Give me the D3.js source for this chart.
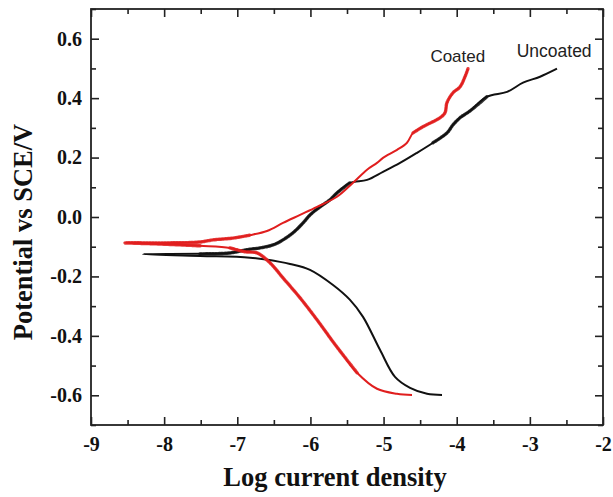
<!DOCTYPE html>
<html>
<head>
<meta charset="utf-8">
<script src="https://cdn.jsdelivr.net/npm/d3@7"></script>
<style>
  html, body { margin: 0; padding: 0; background: #fff; }
  svg { display: block; }
</style>
</head>
<body>
<svg id="chart" width="613" height="497"></svg>
<script>
// Potentiodynamic polarisation curves: log current density vs potential (V vs SCE)
const xTicks = [-9, -8, -7, -6, -5, -4, -3, -2];
const yTicks = [-0.6, -0.4, -0.2, 0.0, 0.2, 0.4, 0.6];

// Uncoated: cathodic branch (from -0.6 V up to the corrosion tip) then anodic branch
const uncoatedLogI = [-4.201, -4.406, -4.638, -4.844, -5.049, -5.281, -5.459, -5.691, -6.006, -6.279, -6.416, -6.826, -7.510, -8.289,
  -7.510, -7.100, -6.867, -6.689, -6.512, -6.375, -6.238, -6.101, -6.006, -5.869, -5.732, -5.637, -5.459, -5.226, -5.008, -4.775,
  -4.543, -4.324, -4.133, -4.051, -3.955, -3.818, -3.586, -3.312, -3.093, -2.861, -2.629];
const uncoatedE = [-0.599, -0.595, -0.575, -0.538, -0.447, -0.336, -0.279, -0.229, -0.178, -0.158, -0.151, -0.137, -0.131, -0.125,
  -0.124, -0.121, -0.110, -0.104, -0.094, -0.077, -0.053, -0.020, 0.007, 0.034, 0.058, 0.081, 0.115, 0.125, 0.152, 0.182,
  0.216, 0.250, 0.283, 0.310, 0.334, 0.357, 0.405, 0.421, 0.452, 0.472, 0.499];

// Coated: cathodic branch then anodic branch
const coatedLogI = [-4.611, -4.816, -5.090, -5.363, -5.555, -5.691, -5.910, -6.142, -6.375, -6.553, -6.730, -6.894, -7.100, -7.510, -8.057, -8.535,
  -7.920, -7.510, -7.332, -7.059, -6.826, -6.594, -6.375, -6.142, -5.910, -5.637, -5.418, -5.226, -5.090, -5.008, -4.816,
  -4.680, -4.597, -4.461, -4.228, -4.160, -4.133, -4.051, -3.955, -3.887, -3.846];
const coatedE = [-0.599, -0.595, -0.578, -0.524, -0.464, -0.420, -0.346, -0.272, -0.205, -0.154, -0.121, -0.117, -0.104, -0.097, -0.091, -0.087,
  -0.087, -0.084, -0.077, -0.071, -0.061, -0.047, -0.020, 0.007, 0.034, 0.068, 0.115, 0.159, 0.182, 0.199, 0.226,
  0.250, 0.283, 0.304, 0.334, 0.351, 0.385, 0.418, 0.438, 0.472, 0.499];

const seriesNames = ["Uncoated", "Coated"];
const seriesColors = ["#111111", "#e01e1e"];
// Index ranges of the noisy (scattered) stretches of each sweep
const noisyRanges = [[[14, 26], [31, 36]], [[3, 12], [13, 20], [32, 40]]];

const svg = d3.select("#chart");
const margin = { left: 91, right: 10, top: 9, bottom: 72 };
const W = 613, H = 497;
const iw = W - margin.left - margin.right;
const ih = H - margin.top - margin.bottom;

const x = d3.scaleLinear().domain([-9, -2]).range([0, iw]);
const y = d3.scaleLinear().domain([-0.7, 0.7]).range([ih, 0]);

const g = svg.append("g").attr("transform", `translate(${margin.left},${margin.top})`);

const fmtY = v => d3.format(".1f")(v).replace("\u2212", "-");
const fmtX = v => String(v).replace("\u2212", "-");
const xMinor = d3.range(-8.5, -2, 1);
const yMinor = [-0.7, -0.5, -0.3, -0.1, 0.1, 0.3, 0.5, 0.7];

function styleAxis(sel) {
  sel.select(".domain").remove();
  sel.selectAll("line").attr("stroke", "#222").attr("stroke-width", 1.6);
  sel.selectAll("text")
    .attr("fill", "#111")
    .attr("font-family", "'Liberation Serif', 'Times New Roman', serif")
    .attr("font-weight", "bold")
    .attr("font-size", 20);
}

// Bottom axis: major ticks with labels, minor ticks without
g.append("g").attr("transform", `translate(0,${ih})`)
  .call(d3.axisBottom(x).tickValues(xTicks).tickSizeInner(-8).tickSizeOuter(0).tickPadding(12).tickFormat(fmtX))
  .call(styleAxis);
g.append("g").attr("transform", `translate(0,${ih})`)
  .call(d3.axisBottom(x).tickValues(xMinor).tickSizeInner(-5).tickSizeOuter(0).tickFormat(""))
  .call(styleAxis);
// Top axis
g.append("g")
  .call(d3.axisTop(x).tickValues(xTicks).tickSizeInner(-8).tickSizeOuter(0).tickFormat(""))
  .call(styleAxis);
g.append("g")
  .call(d3.axisTop(x).tickValues(xMinor).tickSizeInner(-5).tickSizeOuter(0).tickFormat(""))
  .call(styleAxis);
// Left axis
g.append("g")
  .call(d3.axisLeft(y).tickValues(yTicks).tickSizeInner(-8).tickSizeOuter(0).tickPadding(9).tickFormat(fmtY))
  .call(styleAxis);
g.append("g")
  .call(d3.axisLeft(y).tickValues(yMinor).tickSizeInner(-5).tickSizeOuter(0).tickFormat(""))
  .call(styleAxis);
// Right axis
g.append("g").attr("transform", `translate(${iw},0)`)
  .call(d3.axisRight(y).tickValues(yTicks).tickSizeInner(-8).tickSizeOuter(0).tickFormat(""))
  .call(styleAxis);
g.append("g").attr("transform", `translate(${iw},0)`)
  .call(d3.axisRight(y).tickValues(yMinor).tickSizeInner(-5).tickSizeOuter(0).tickFormat(""))
  .call(styleAxis);

// Frame
g.append("rect").attr("x", 0).attr("y", 0).attr("width", iw).attr("height", ih)
  .attr("fill", "none").attr("stroke", "#222").attr("stroke-width", 1.8);

// Curves
const line = d3.line().x(d => x(d[0])).y(d => y(d[1])).curve(d3.curveCatmullRom.alpha(0.5));
const series = [
  d3.zip(uncoatedLogI, uncoatedE),
  d3.zip(coatedLogI, coatedE)
];
series.forEach((pts, i) => {
  g.append("path")
    .datum(pts)
    .attr("d", line)
    .attr("fill", "none")
    .attr("stroke", seriesColors[i])
    .attr("stroke-width", 2)
    .attr("stroke-linejoin", "round");
  // Scattered stretches are drawn with a heavier, slightly soft stroke
  noisyRanges[i].forEach(([a, b]) => {
    g.append("path")
      .datum(pts.slice(a, b + 1))
      .attr("d", line)
      .attr("fill", "none")
      .attr("stroke", seriesColors[i])
      .attr("stroke-width", 3.4)
      .attr("stroke-opacity", 0.85)
      .attr("stroke-linecap", "round")
      .attr("stroke-dasharray", "2,1");
  });
});

// Curve labels
const labelFont = "'Liberation Sans', Arial, Helvetica, sans-serif";
g.append("text").attr("x", x(-4.36)).attr("y", y(0.522))
  .attr("font-family", labelFont).attr("font-size", 17).attr("fill", "#222").text("Coated");
g.append("text").attr("x", x(-3.18)).attr("y", y(0.538))
  .attr("font-family", labelFont).attr("font-size", 17.5).attr("fill", "#222").text("Uncoated");

// Axis titles
svg.append("text")
  .attr("x", 335).attr("y", 486)
  .attr("text-anchor", "middle")
  .attr("font-family", "'Liberation Serif', 'Times New Roman', serif")
  .attr("font-weight", "bold").attr("font-size", 26.5).attr("fill", "#111")
  .text("Log current density");
svg.append("text")
  .attr("transform", "translate(32,232) rotate(-90)")
  .attr("text-anchor", "middle")
  .attr("font-family", "'Liberation Serif', 'Times New Roman', serif")
  .attr("font-weight", "bold").attr("font-size", 26.5).attr("fill", "#111")
  .text("Potential vs SCE/V");
</script>
</body>
</html>
